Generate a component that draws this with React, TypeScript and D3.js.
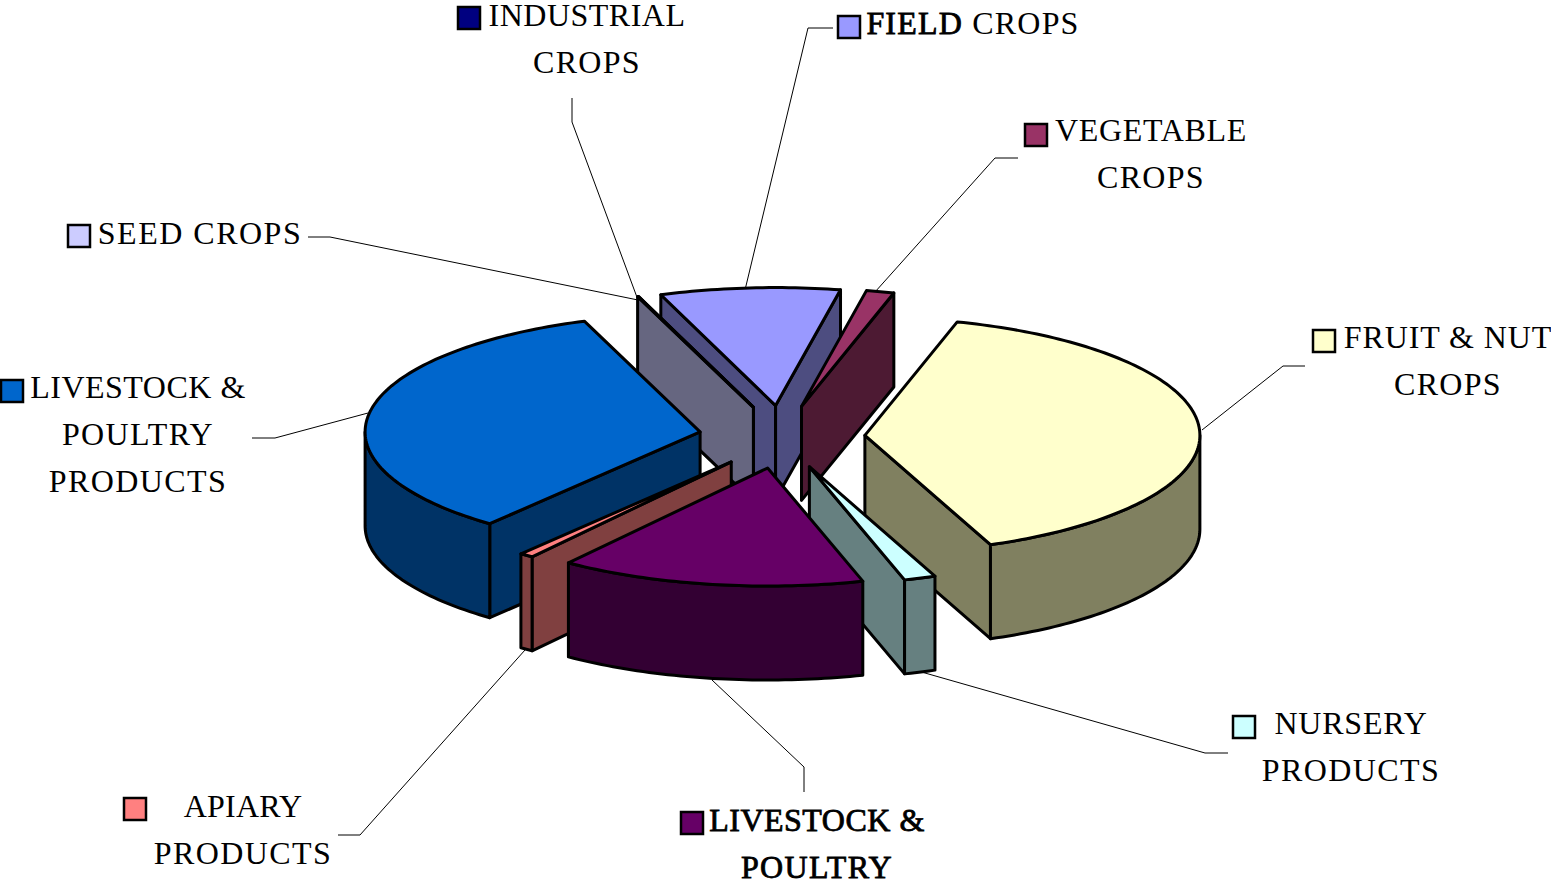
import React from "react";
import * as d3 from "d3";

const W = 1551, H = 882;
const categories = ["FRUIT & NUT CROPS","NURSERY PRODUCTS","LIVESTOCK & POULTRY","APIARY PRODUCTS","LIVESTOCK & POULTRY PRODUCTS","SEED CROPS","INDUSTRIAL CROPS","FIELD CROPS","VEGETABLE CROPS"];
const shares = [39.44,1.53,14.72,0.67,33.58,0.03,0.02,8.67,1.34];
const topColors = ["#FFFFCC","#CCFFFF","#660066","#FF8080","#0066CC","#CCCCFF","#000080","#9999FF","#993366"];
const sideColors = ["#808060","#668080","#330033","#804040","#003366","#666680","#000040","#4D4D80","#4D1A33"];

type Seg = { t: string; bold?: boolean };
type Label = { lines: Seg[][]; x: number; y: number; box: [number, number]; leader: [number, number][] };
const labels: Label[] = [
  { lines: [[{ t: "FRUIT & NUT" }],[{ t: "CROPS" }]], x: 1448, y: 348, box: [1313,330], leader: [[1305,366],[1283,366],[1202,430]] },
  { lines: [[{ t: "NURSERY" }],[{ t: "PRODUCTS" }]], x: 1351, y: 734, box: [1233,716], leader: [[1228,753],[1205,753],[918,671]] },
  { lines: [[{ t: "LIVESTOCK &", bold: true }],[{ t: "POULTRY", bold: true }]], x: 817, y: 831, box: [681,812], leader: [[804,792],[804,767],[712,680]] },
  { lines: [[{ t: "APIARY" }],[{ t: "PRODUCTS" }]], x: 243, y: 817, box: [124,798], leader: [[338,835],[360,835],[525,650]] },
  { lines: [[{ t: "LIVESTOCK &" }],[{ t: "POULTRY" }],[{ t: "PRODUCTS" }]], x: 138, y: 398, box: [1,380], leader: [[252,438],[275,438],[368,413]] },
  { lines: [[{ t: "SEED CROPS" }]], x: 200, y: 244, box: [68,225], leader: [[308,237],[330,237],[638,300]] },
  { lines: [[{ t: "INDUSTRIAL" }],[{ t: "CROPS" }]], x: 587, y: 26, box: [458,7], leader: [[572,98],[572,122],[638,300]] },
  { lines: [[{ t: "FIELD", bold: true },{ t: " CROPS" }]], x: 973, y: 34, box: [838,16], leader: [[833,28],[808,28],[745,290]] },
  { lines: [[{ t: "VEGETABLE" }],[{ t: "CROPS" }]], x: 1151, y: 141, box: [1025,124], leader: [[1018,158],[995,158],[875,292]] },
];
const spacing: Record<string, number> = { CROPS: 1.3, PRODUCTS: 1.4, POULTRY: 1.3, "SEED CROPS": 1.5, "FIELD CROPS": 1.2, "FRUIT & NUT": 0.9, APIARY: 0.2, VEGETABLE: 0.7, NURSERY: 0.8 };

const cx = 782, cy = 437, rx = 335, ry = 118, depth = 94, explode = 83, explodeY = 31.5;
const START = (16 * Math.PI) / 180;
const pie = d3.pie<number>().sort(null).startAngle(START).endAngle(START + 2 * Math.PI);
const arcs = pie(shares);
const line = d3.line<[number, number]>();

function App() {
  const slices = arcs.map((a, i) => {
    const mid = (a.startAngle + a.endAngle) / 2;
    const ox = cx + explode * Math.sin(mid);
    const oy = cy - explodeY * Math.cos(mid);
    const pt = (t: number, dz = 0): [number, number] => [ox + rx * Math.sin(t), oy - ry * Math.cos(t) + dz];
    const sweep = (from: number, to: number, dz = 0): [number, number][] => {
      const n = Math.max(2, Math.ceil(Math.abs(to - from) / 0.02));
      return d3.range(n + 1).map((k) => pt(from + ((to - from) * k) / n, dz));
    };
    const s = a.startAngle, e = a.endAngle;
    const walls: [number, number][][] = [];
    const apex: [number, number] = [ox, oy];
    const apexLow: [number, number] = [ox, oy + depth];
    if (Math.sin(s) < 0) walls.push([apex, pt(s), pt(s, depth), apexLow]);
    if (Math.sin(e) > 0) walls.push([apex, pt(e), pt(e, depth), apexLow]);
    const fa = Math.max(s, Math.PI / 2), fb = Math.min(e, (3 * Math.PI) / 2);
    if (fb > fa) walls.push([...sweep(fa, fb), ...sweep(fb, fa, depth)]);
    const top: [number, number][] = [apex, ...sweep(s, e)];
    return { i, oy, walls, top };
  });
  const order = [...slices].sort((a, b) => d3.ascending(a.oy, b.oy));

  return (
    <svg width={W} height={H} viewBox={`0 0 ${W} ${H}`} style={{ position: "absolute", left: 0, top: 0, background: "#fff" }}>
      {labels.map((l, i) => (
        <path key={i} d={line(l.leader) ?? ""} fill="none" stroke="#000" strokeWidth={1} />
      ))}
      {order.map((sl) => (
        <g key={sl.i} stroke="#000" strokeWidth={3} strokeLinejoin="round">
          {sl.walls.map((w, k) => (
            <path key={k} d={(line(w) ?? "") + "Z"} fill={sideColors[sl.i]} />
          ))}
          <path d={(line(sl.top) ?? "") + "Z"} fill={topColors[sl.i]} />
        </g>
      ))}
      {labels.map((l, i) => (
        <g key={i}>
          <rect x={l.box[0]} y={l.box[1]} width={22} height={22} fill={topColors[i]} stroke="#000" strokeWidth={2.5} />
          {l.lines.map((segs, k) => (
            <text
              key={k}
              x={l.x}
              y={l.y + k * 47}
              textAnchor="middle"
              fontFamily="'Liberation Serif', serif"
              fontSize={32}
              fill="#000"
              letterSpacing={spacing[segs.map((s) => s.t).join("")] ?? 0.5}
              style={{ whiteSpace: "pre" }}
            >
              {segs.map((s, m) => (
                <tspan key={m} stroke={s.bold ? "#000" : "none"} strokeWidth={s.bold ? 0.8 : 0}>
                  {s.t}
                </tspan>
              ))}
            </text>
          ))}
        </g>
      ))}
    </svg>
  );
}

export default App;
